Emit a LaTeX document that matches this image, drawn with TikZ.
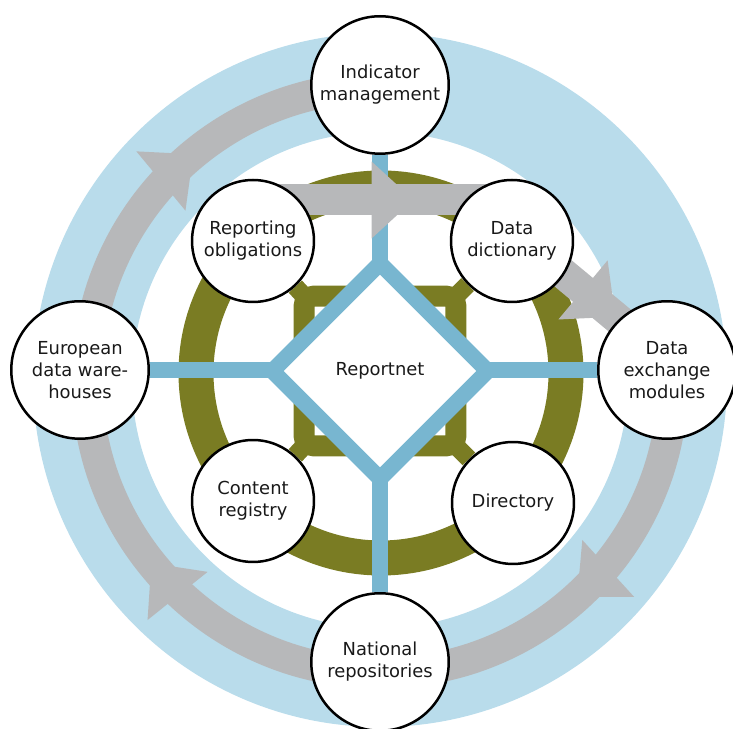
\documentclass[tikz,border=0pt]{standalone}
\usepackage{fontspec}
\setmainfont{DejaVu Sans}
\usetikzlibrary{arrows.meta,decorations.markings,shapes.geometric,backgrounds,calc}
\definecolor{ringblue}{RGB}{185,220,235}
\definecolor{lineblue}{RGB}{120,182,208}
\definecolor{bandgrey}{RGB}{183,184,186}
\definecolor{olivegreen}{RGB}{122,124,35}
\begin{document}
\begin{tikzpicture}[x=0.02cm,y=0.02cm]
\tikzset{punkt/.style={circle, draw=black, line width=0.05cm, fill=white, minimum size=2.75cm, inner sep=0, align=center, text=black!90, font=\fontsize{10.2}{12.5}\selectfont},
	klein/.style={punkt, minimum size=2.44cm},
	flow/.style={color=bandgrey, line width=0.62cm, postaction={decorate},
		decoration={markings, mark=at position #1 with {\arrow{Triangle[length=0.84cm, width=1.54cm, line width=0pt]}}}}}
\useasboundingbox (0,0) rectangle (733,729);
\coordinate (ring) at (380,349);
\coordinate (olc) at (381,356);
\coordinate (mid) at (380,358);

\node[punkt] at (380,644) (ind) {Indicator\\management};
\node[punkt] at (380,67) (nat) {National\\repositories};
\node[punkt] at (80,359) (eur) {European\\data ware-\\houses};
\node[punkt] at (667,359) (dex) {Data\\exchange\\modules};
\node[klein] at (253,488) (rep) {Reporting\\obligations};
\node[klein] at (512,488) (dic) {Data\\dictionary};
\node[klein] at (253,228) (con) {Content\\registry};
\node[klein] at (513,226) (dir) {Directory};
\node[diamond, aspect=1, draw=lineblue, line width=0.32cm, fill=white, minimum size=4.44cm, inner sep=0, text=black!90, font=\fontsize{10.2}{12.5}\selectfont] at (mid) (rn) {Reportnet};

\begin{scope}[on background layer]
	% rings
	\draw [ringblue, line width=1.98cm] (ring) circle[radius=297.5];
	\draw [olivegreen, line width=0.7cm] (olc) circle[radius=185];
	\node[draw=olivegreen, line width=0.42cm, rounded corners=6pt, minimum width=3.04cm, minimum height=3.0cm, outer sep=0] at (mid) (sq) {};
	\draw [olivegreen, line width=0.36cm] (sq.north west) -- (rep);
	\draw [olivegreen, line width=0.36cm] (sq.north east) -- (dic);
	\draw [olivegreen, line width=0.36cm] (sq.south west) -- (con);
	\draw [olivegreen, line width=0.36cm] (sq.south east) -- (dir);

	% blue cross
	\draw [lineblue, line width=0.32cm] (ind) -- (nat);
	\draw [lineblue, line width=0.32cm] (eur) -- (dex);

	% grey flows
	\draw [flow=0.56] ($(ring)+(180:293)$) arc[start angle=180, end angle=90, radius=293];
	\draw [flow=0.53] ($(ring)+(0:293)$) arc[start angle=0, end angle=-90, radius=293];
	\draw [flow=0.57] ($(ring)+(270:293)$) arc[start angle=270, end angle=180, radius=293];
	\draw [flow=0.62] ([yshift=0.82cm]rep.center) -- ([yshift=0.82cm]dic.center);
	\draw [flow=0.635] ([shift={(5,6)}]dic.center) -- ([shift={(5,6)}]dex.center);
\end{scope}
\end{tikzpicture}
\end{document}
